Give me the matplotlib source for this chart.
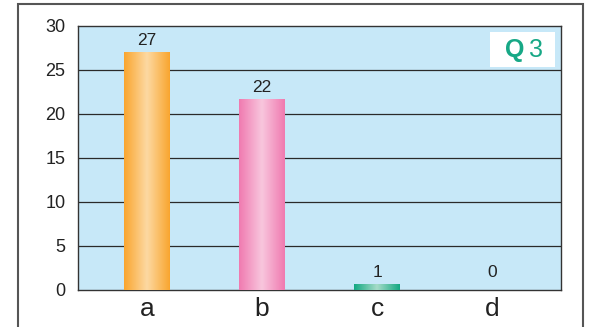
import numpy as np
import matplotlib
matplotlib.use("Agg")
import matplotlib.pyplot as plt
from matplotlib.colors import LinearSegmentedColormap
from matplotlib.patches import Rectangle

plt.rcParams["font.family"] = ["Liberation Sans", "DejaVu Sans"]

categories = ["a", "b", "c", "d"]
value_labels = ["27", "22", "1", "0"]
bar_heights = [27, 21.7, 0.6, 0]
yticks = [0, 5, 10, 15, 20, 25, 30]
edge_colors = ["#f9a52e", "#f07ab0", "#12a882", "#12a882"]
mid_colors = ["#fdd9a2", "#f8c6dd", "#a6dcc8", "#a6dcc8"]

W, H = 600, 327
fig = plt.figure(figsize=(W / 100, H / 100), dpi=100)
fig.patch.set_facecolor("white")

# outer frame
frame = Rectangle((18 / W, -0.05), (583 - 18) / W, (H - 4) / H + 0.05,
                  transform=fig.transFigure, fill=False, edgecolor="#555555", lw=1.5)
fig.patches.append(frame)

ax = fig.add_axes([78 / W, 1 - 290 / H, (561 - 78) / W, (290 - 26) / H])
ax.set_facecolor("#c7e8f8")
ax.set_xlim(-0.6, 3.6)
ax.set_ylim(0, 30)
ax.set_yticks(yticks)
ax.set_yticklabels([str(t) for t in yticks], fontsize=13, color="#222222")
ax.set_xticks(range(len(categories)))
ax.set_xticklabels(categories, fontsize=19, color="#222222")
ax.tick_params(axis="y", length=0, pad=9)
ax.tick_params(axis="x", length=0, pad=5)
for s in ax.spines.values():
    s.set_color("#333333")
    s.set_linewidth(1.0)
for t in yticks[1:-1]:
    ax.axhline(t, color="#2a2a2a", lw=0.9, zorder=1)

bw = 0.4
for i, (h, ec, mc) in enumerate(zip(bar_heights, edge_colors, mid_colors)):
    if h > 0:
        cmap = LinearSegmentedColormap.from_list("g%d" % i, [ec, mc, ec])
        grad = np.linspace(0, 1, 256).reshape(1, -1)
        ax.imshow(grad, cmap=cmap, aspect="auto",
                  extent=(i - bw / 2, i + bw / 2, 0, h), zorder=3)
    ax.text(i, max(h, 0.6) + 0.5, value_labels[i], ha="center", va="bottom",
            fontsize=12.5, color="#222222", zorder=4)
ax.set_xlim(-0.6, 3.6)
ax.set_ylim(0, 30)

# Q3 badge
bx0, by0, bx1, by1 = 490, 32, 555, 67
fig.patches.append(Rectangle((bx0 / W, 1 - by1 / H), (bx1 - bx0) / W, (by1 - by0) / H,
                             transform=fig.transFigure, facecolor="white", edgecolor="none", zorder=5))
fig.text(505 / W, 1 - 50 / H, "Q", fontsize=18, fontweight="bold", color="#17a886",
         ha="left", va="center", zorder=6)
fig.text(529 / W, 1 - 50 / H, "3", fontsize=18, color="#17a886",
         ha="left", va="center", zorder=6)

fig.savefig("out.png", dpi=100)
